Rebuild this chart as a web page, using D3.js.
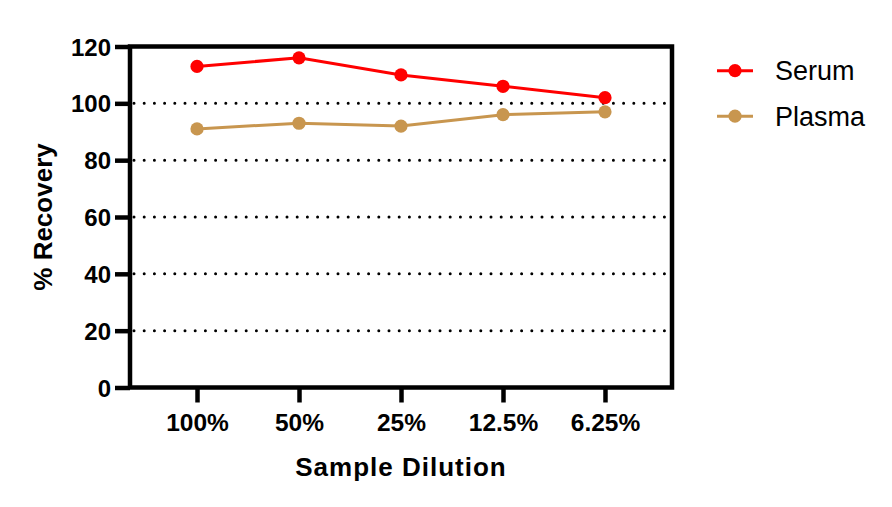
<!DOCTYPE html>
<html><head><meta charset="utf-8">
<script src="https://cdn.jsdelivr.net/npm/d3@7"></script>
<style>
html,body{margin:0;padding:0;background:#fff;}
svg{display:block;}
text{font-family:"Liberation Sans",Arial,sans-serif;}
</style></head>
<body><svg id="c" width="892" height="507"></svg>
<script>
const categories = ["100%","50%","25%","12.5%","6.25%"];
const serum = [113,116,110,106,102];
const plasma = [91,93,92,96,97];
const yTicks = [0,20,40,60,80,100,120];
const gridValues = [20,40,60,80,100];
const seriesNames = ["Serum","Plasma"];
const seriesColors = ["#FF0000","#C8964F"];

const svg = d3.select("#c");
const L=130, R=672, T=46.5, B=387.5;
const x = d3.scalePoint().domain(categories).range([L,R]).padding(0.657);
const y = d3.scaleLinear().domain([0,120]).range([B,T]);

// grid
svg.append("g").selectAll("line").data(gridValues).join("line")
  .attr("x1",L+4).attr("x2",R-3).attr("y1",d=>y(d)).attr("y2",d=>y(d))
  .attr("stroke","#000").attr("stroke-width",3).attr("stroke-linecap","round")
  .attr("stroke-dasharray","0 10.2");

// axes
const ya = svg.append("g").attr("transform",`translate(${L},0)`)
  .call(d3.axisLeft(y).tickValues(yTicks).tickSize(15).tickPadding(4).tickSizeOuter(0));
ya.select(".domain").remove();
ya.selectAll("line").attr("stroke","#000").attr("stroke-width",4.5);
ya.selectAll("text").attr("font-size",24).attr("font-weight","bold").attr("fill","#000")
  .attr("dy","0.36em").attr("x",-19);

const xa = svg.append("g").attr("transform",`translate(0,${B})`)
  .call(d3.axisBottom(x).tickSize(15).tickPadding(0).tickSizeOuter(0));
xa.select(".domain").remove();
xa.selectAll("line").attr("stroke","#000").attr("stroke-width",4.5);
xa.selectAll("text").attr("font-size",24.5).attr("font-weight","bold").attr("fill","#000")
  .attr("y",43.5).attr("dy",0);

// frame
svg.append("rect").attr("x",L).attr("y",T).attr("width",R-L).attr("height",B-T)
  .attr("fill","none").attr("stroke","#000").attr("stroke-width",4.5);

// series
const line = d3.line().x((d,i)=>x(categories[i])).y(d=>y(d));
[serum,plasma].forEach((s,k)=>{
  svg.append("path").datum(s).attr("d",line).attr("fill","none")
    .attr("stroke",seriesColors[k]).attr("stroke-width",3);
  svg.append("g").selectAll("circle").data(s).join("circle")
    .attr("cx",(d,i)=>x(categories[i])).attr("cy",d=>y(d)).attr("r",6.6)
    .attr("fill",seriesColors[k]);
});

// axis titles
svg.append("text").attr("x",(L+R)/2).attr("y",476).attr("text-anchor","middle")
  .attr("font-size",26).attr("font-weight","bold").attr("letter-spacing","1px").text("Sample Dilution");
svg.append("text").attr("transform",`translate(52,${(T+B)/2}) rotate(-90)`).attr("text-anchor","middle")
  .attr("font-size",26).attr("font-weight","bold").text("% Recovery");

// legend
const lg = svg.append("g");
seriesNames.forEach((n,k)=>{
  const cy = 70.7 + k*45.5;
  lg.append("line").attr("x1",717).attr("x2",753).attr("y1",cy).attr("y2",cy)
    .attr("stroke",seriesColors[k]).attr("stroke-width",3);
  lg.append("circle").attr("cx",735).attr("cy",cy).attr("r",6.6).attr("fill",seriesColors[k]);
  lg.append("text").attr("x",775).attr("y",cy+9.5).attr("font-size",27).attr("fill","#000").text(n);
});
</script></body></html>
